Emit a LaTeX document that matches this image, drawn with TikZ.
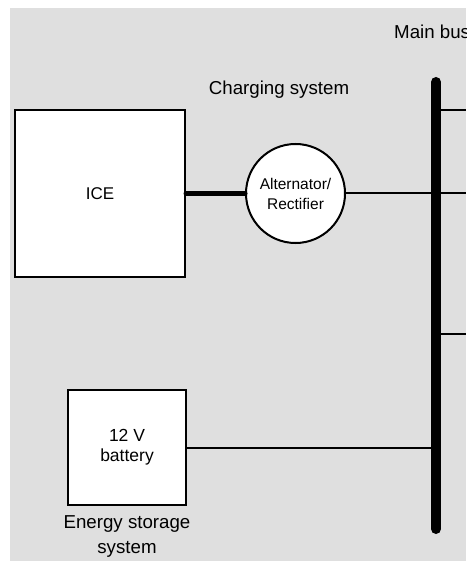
\documentclass[tikz,border=0pt]{standalone}
\usepackage{fontspec}
\setmainfont{Liberation Sans}
\definecolor{bggray}{HTML}{DFDFDF}
\tikzset{
  boxnode/.style={draw=black, line width=2pt, fill=white, inner sep=0pt, align=center},
  label18/.style={font=\fontsize{18.7}{25}\selectfont, align=center, inner sep=0pt},
  thinwire/.style={line width=2pt},
}
\begin{document}
\begin{tikzpicture}[x=1pt,y=-1pt]
\useasboundingbox (0,0) rectangle (466,561);
\fill[bggray] (10,8) rectangle (466,561);
% boxes
\node[boxnode, minimum width=170pt, minimum height=167pt, font=\fontsize{17}{20}\selectfont] (ice) at (100,193.5) {ICE};
\node[boxnode, circle, minimum size=99pt, font=\fontsize{15.5}{20}\selectfont] (alt) at (295.5,193.5) {Alternator/\\Rectifier};
\node[boxnode, minimum width=118pt, minimum height=115pt, font=\fontsize{17.5}{20}\selectfont] (bat) at (127,447.5) {12 V\\battery};
% labels
\node[label18] (chg) at (279,90) {Charging system};
\node[label18, anchor=west] (mb) at (394,32) {Main bus};
\node[label18] (ess) at (127,537) {Energy storage\\system};
% bus
\coordinate (bustop) at (436,82);
\coordinate (busbot) at (436,529);
\draw[line width=10pt, line cap=round] (bustop) -- (busbot);
\coordinate (b1) at (436,110);
\coordinate (r1) at (466,110);
\coordinate (r2) at (466,193.5);
\coordinate (b3) at (436,334);
\coordinate (r3) at (466,334);
\coordinate (b4) at (436,447.5);
% connectors
\draw[line width=5pt, line cap=round] (ice.east) -- (alt.west);
\draw[thinwire] (alt.east) -- (r2);
\draw[thinwire] (b1) -- (r1);
\draw[thinwire] (b3) -- (r3);
\draw[thinwire] (bat.east) -- (b4);
\end{tikzpicture}
\end{document}
